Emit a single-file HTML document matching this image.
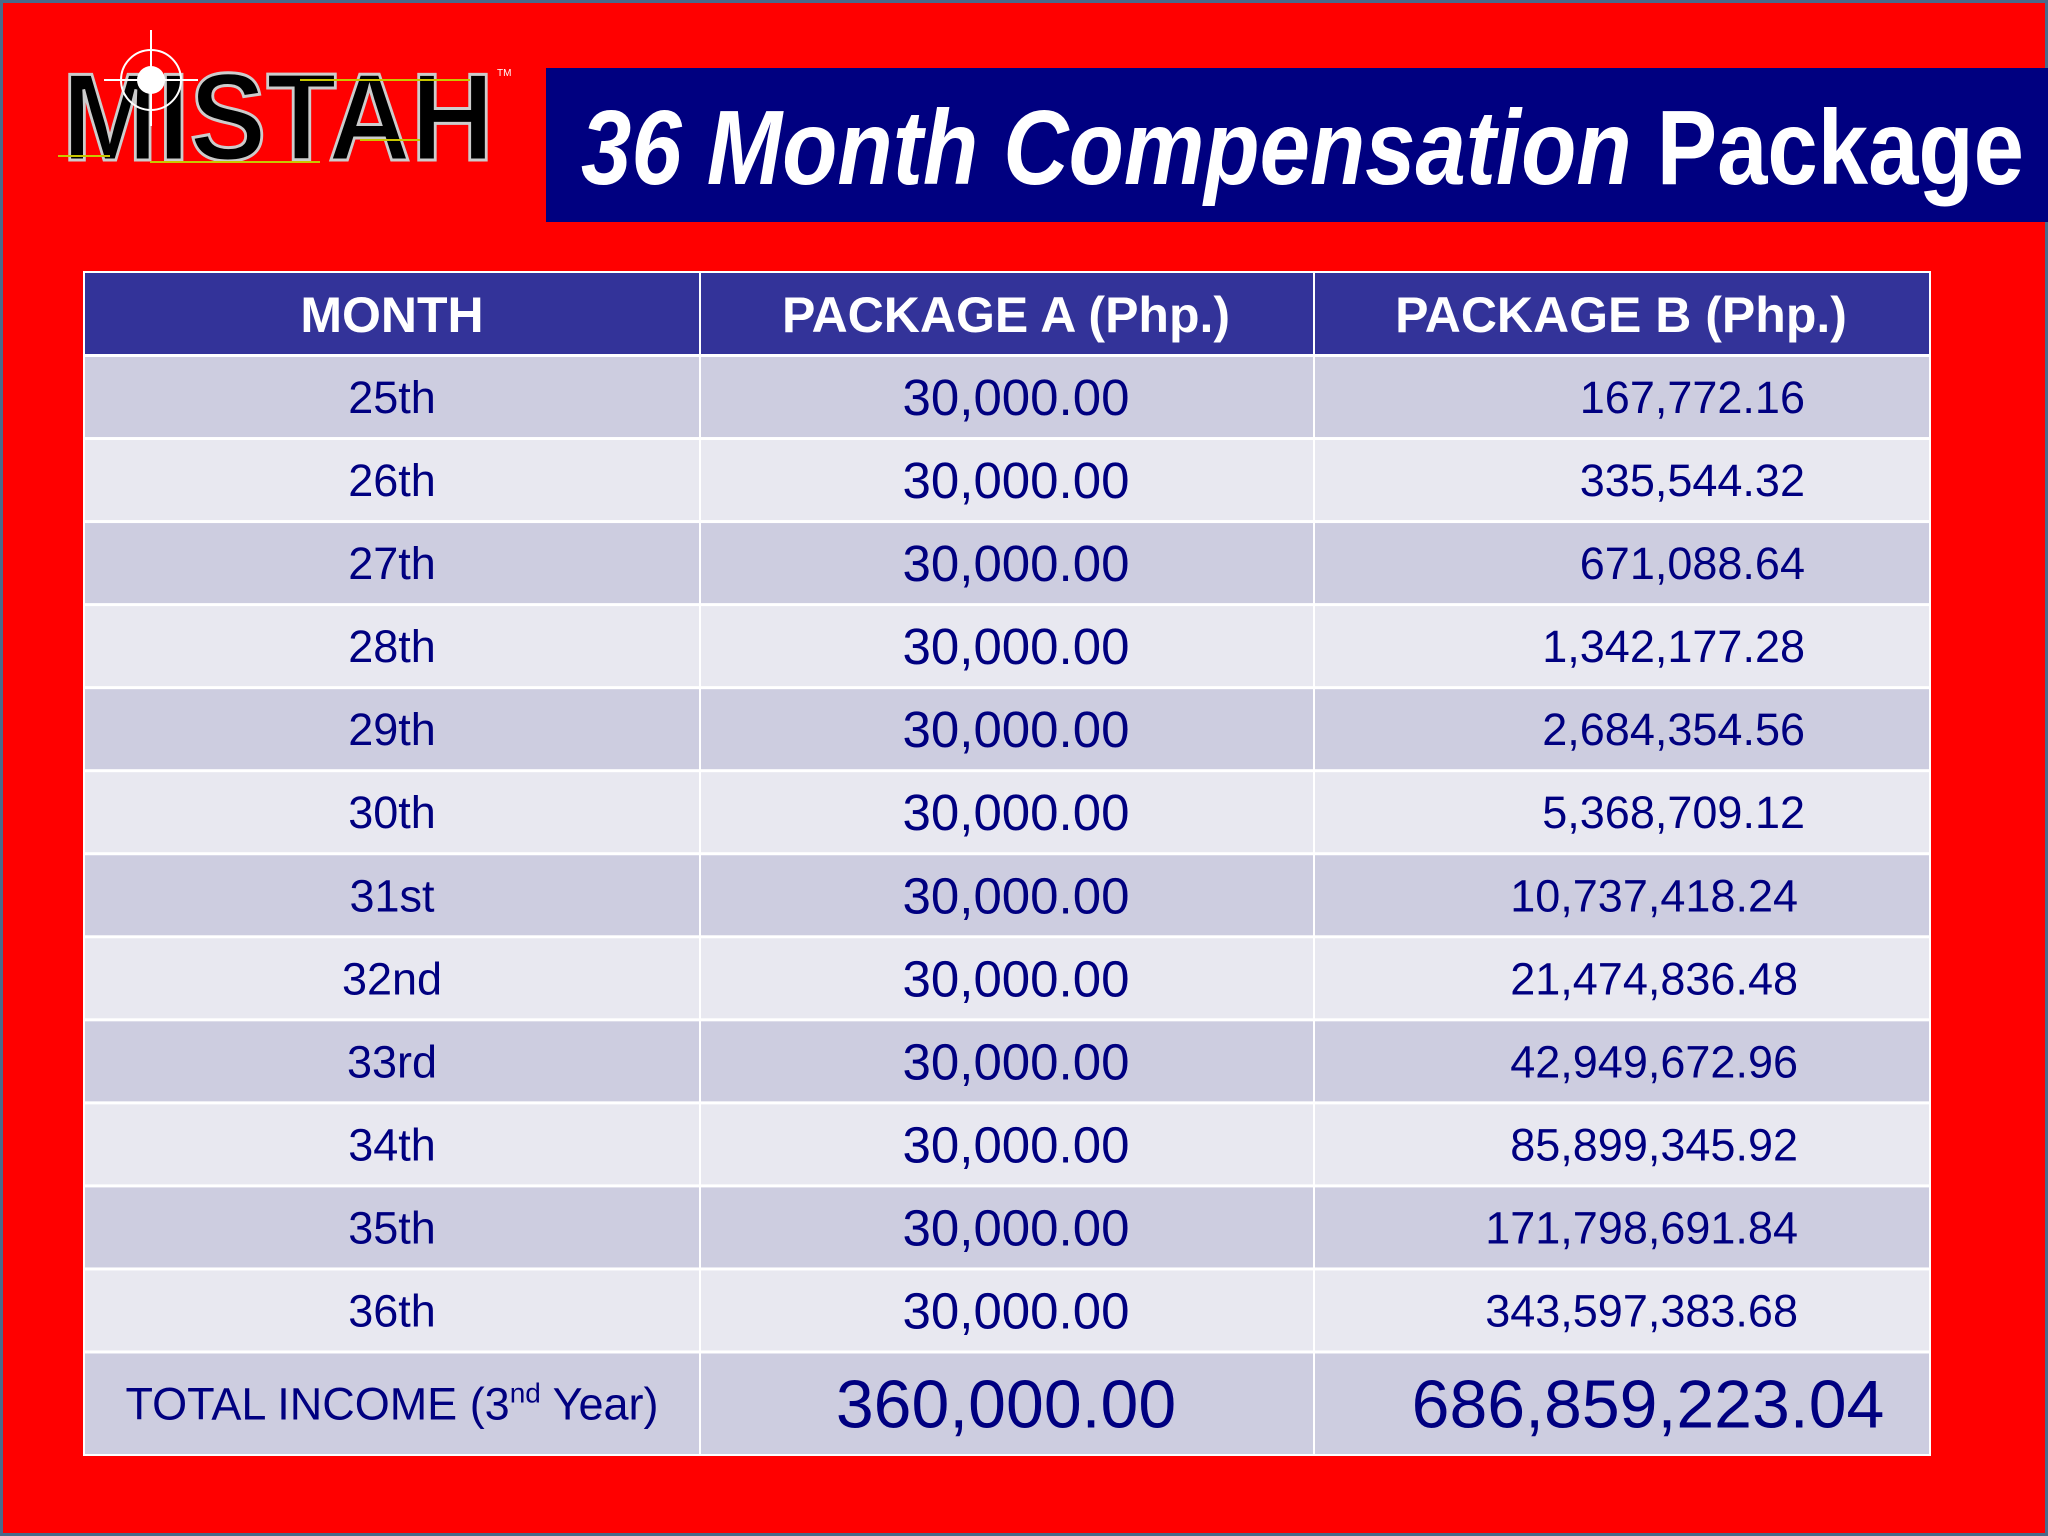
<!DOCTYPE html>
<html><head><meta charset="utf-8"><style>
html,body{margin:0;padding:0;}
body{width:2048px;height:1536px;overflow:hidden;background:#ff0000;font-family:"Liberation Sans",sans-serif;}
svg{display:block}
</style></head><body>
<svg id="s" width="2048" height="1536" viewBox="0 0 2048 1536" xmlns="http://www.w3.org/2000/svg">
<rect x="1.5" y="1.5" width="2045" height="1533" fill="#ff0000" stroke="#4a6a8a" stroke-width="3"/>
<g>
  <text x="62" y="160" font-family="Liberation Sans" font-weight="bold" font-size="124" textLength="432" lengthAdjust="spacingAndGlyphs" fill="#000" stroke="#ccc" stroke-width="3">MISTAH</text>
  <path d="M58 156 H110 M150 162 H320 M300 80 H470 M360 140 H420" stroke="#c8c800" stroke-width="2" fill="none"/>
  <circle cx="151" cy="80" r="30" fill="none" stroke="#fff" stroke-width="2"/>
  <circle cx="151" cy="80" r="14" fill="#fff"/>
  <path d="M151 30 V126 M104 80 H198" stroke="#fff" stroke-width="2"/>
  <text x="497" y="76" font-size="10" fill="#fff">TM</text>
</g>
<g>
  <rect x="546" y="68" width="1502" height="154" fill="#000080"/>
  <text x="581" y="184" font-size="106" font-weight="bold" fill="#fff" textLength="1443" lengthAdjust="spacingAndGlyphs"><tspan font-style="italic">36 Month Compensation</tspan> Package</text>
</g>
<g id="tbl"></g>
</svg>
<script>
const months = ["25th","26th","27th","28th","29th","30th","31st","32nd","33rd","34th","35th","36th"];
const packageA = ["30,000.00","30,000.00","30,000.00","30,000.00","30,000.00","30,000.00","30,000.00","30,000.00","30,000.00","30,000.00","30,000.00","30,000.00"];
const packageB = ["167,772.16","335,544.32","671,088.64","1,342,177.28","2,684,354.56","5,368,709.12","10,737,418.24","21,474,836.48","42,949,672.96","85,899,345.92","171,798,691.84","343,597,383.68"];
const headers = ["MONTH","PACKAGE A (Php.)","PACKAGE B (Php.)"];
const totalA = "360,000.00";
const totalB = "686,859,223.04";

const NS="http://www.w3.org/2000/svg";
const g=document.getElementById('tbl');
const colX=[85,699,1313,1929];
function mk(tag,attrs,parent){const e=document.createElementNS(NS,tag);for(const k in attrs)e.setAttribute(k,attrs[k]);(parent||g).appendChild(e);return e;}
mk('rect',{x:83,y:271,width:1848,height:1185,fill:'#fff'});
for(let c=0;c<3;c++){
  const r=mk('rect',{x:colX[c]+(c?2:0),y:273,width:colX[c+1]-colX[c]-(c?2:0),height:81,fill:'#333399'});
  
  
  const t=mk('text',{x:(colX[c]+colX[c+1])/2,y:332,'text-anchor':'middle','font-size':50,'font-weight':'bold',fill:'#fff'});
  t.textContent=headers[c];
  
  
}
const pitch=83.04, top0=357;
months.forEach((m,i)=>{
  const y=top0+i*pitch, h=pitch-3, cy=y+h/2;
  const fill=i%2?'#e8e8f0':'#cdcde0';
  for(let c=0;c<3;c++){
    const r=mk('rect',{x:colX[c]+(c?2:0),y:y,width:colX[c+1]-colX[c]-(c?2:0),height:h,fill:fill});
    
    
  }
  const t1=mk('text',{x:392,y:cy+16,'text-anchor':'middle','font-size':45,fill:'#000080'});
  t1.textContent=m;
  
  
  const t2=mk('text',{x:1016,y:cy+18,'text-anchor':'middle','font-size':51,fill:'#000080'});
  t2.textContent=packageA[i];
  
  
  const t3=mk('text',{x:i<6?1805:1798,y:cy+16,'text-anchor':'end','font-size':45,fill:'#000080'});
  t3.textContent=packageB[i];
  
  
});
const ty=top0+12*pitch, th=1454-ty, tcy=ty+th/2;
for(let c=0;c<3;c++){
  const r=mk('rect',{x:colX[c]+(c?2:0),y:ty,width:colX[c+1]-colX[c]-(c?2:0),height:th,fill:'#cdcde0'});
  
  
}
const tl=mk('text',{x:392,y:tcy+16,'text-anchor':'middle','font-size':45,fill:'#000080'});
tl.innerHTML='TOTAL INCOME (3<tspan font-size="28" dy="-17">nd</tspan><tspan dy="17"> Year)</tspan>';


const ta=mk('text',{x:1006,y:tcy+24,'text-anchor':'middle','font-size':68,fill:'#000080'});
ta.textContent=totalA;


const tb=mk('text',{x:1648,y:tcy+24,'text-anchor':'middle','font-size':68,fill:'#000080'});
tb.textContent=totalB;


</script>
</body></html>
